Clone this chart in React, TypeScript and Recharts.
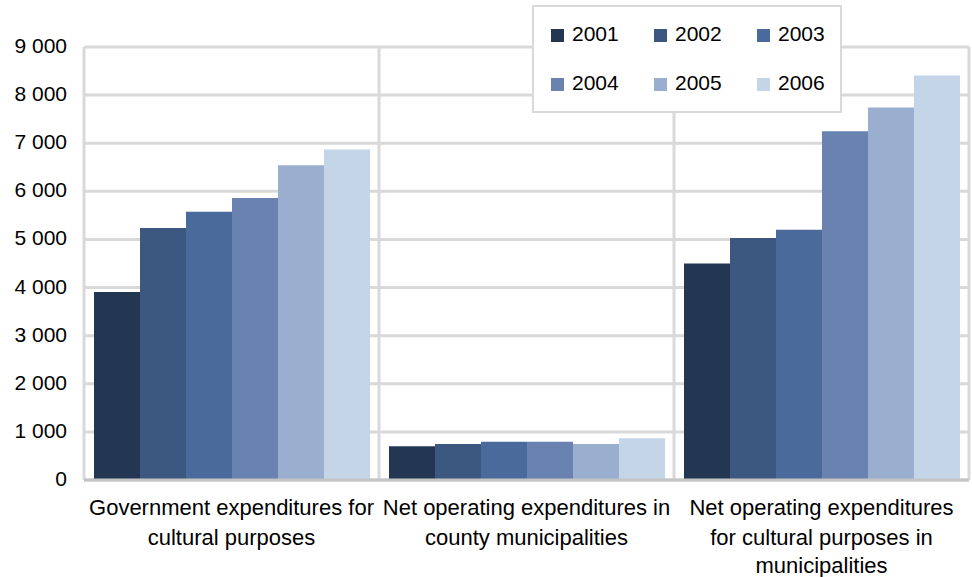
import React from "react";
import { BarChart, Bar, XAxis, YAxis, CartesianGrid, Legend } from "recharts";

const categories = [
  "Government expenditures for\ncultural purposes",
  "Net operating expenditures in\ncounty municipalities",
  "Net operating expenditures\nfor cultural purposes in\nmunicipalities",
];
const years = ["2001", "2002", "2003", "2004", "2005", "2006"];
const v2001 = [3910, 700, 4500];
const v2002 = [5240, 750, 5030];
const v2003 = [5575, 795, 5200];
const v2004 = [5860, 795, 7250];
const v2005 = [6540, 750, 7740];
const v2006 = [6870, 870, 8410];
const yTicks = [0, 1000, 2000, 3000, 4000, 5000, 6000, 7000, 8000, 9000];
const colors = ["#243752", "#3c5780", "#4a6a9c", "#6a82b0", "#9aaed0", "#c5d5e8"];

const seriesValues = [v2001, v2002, v2003, v2004, v2005, v2006];
const data = categories.map((c, i) => {
  const row: Record<string, any> = { name: c };
  years.forEach((y, j) => {
    row[y] = seriesValues[j][i];
  });
  return row;
});

const FONT = "'Liberation Sans', Arial, sans-serif";

const fmt = (v: number) => String(v).replace(/\B(?=(\d{3})+(?!\d))/g, " ");

const XTick = (props: any) => {
  const { x, y, payload } = props;
  const lines = String(payload.value).split("\n");
  return (
    <text x={x} y={y} textAnchor="middle" fontFamily={FONT} fontSize={22} fill="#000">
      {lines.map((l, i) => (
        <tspan key={i} x={x} dy={i === 0 ? 33 : i === 1 ? 30 : 28}>
          {l}
        </tspan>
      ))}
    </text>
  );
};

const YTick = (props: any) => {
  const { x, y, payload } = props;
  return (
    <text x={x} y={y} dy={6} textAnchor="end" fontFamily={FONT} fontSize={21} fill="#000">
      {fmt(payload.value)}
    </text>
  );
};

const LegendBox = (props: any) => {
  const payload = props.payload || [];
  return (
    <div
      style={{
        width: 306,
        height: 102,
        border: "2px solid #d9d9d9",
        background: "#fff",
        display: "grid",
        gridTemplateColumns: "103px 103px 100px",
        gridTemplateRows: "49px 49px",
        paddingTop: 2,
        fontFamily: FONT,
        fontSize: 21,
        color: "#000",
        boxSizing: "content-box",
      }}
    >
      {payload.map((p: any) => (
        <div key={p.value} style={{ display: "flex", alignItems: "center", paddingLeft: 17 }}>
          <span
            style={{
              display: "inline-block",
              width: 13,
              height: 13,
              background: p.color,
              marginRight: 8,
              marginTop: 3,
            }}
          />
          <span>{p.value}</span>
        </div>
      ))}
    </div>
  );
};

export default function App() {
  return (
    <div style={{ position: "absolute", left: 0, top: 0, background: "#fff" }}>
      <BarChart
        width={972}
        height={577}
        data={data}
        margin={{ top: 47, right: 3, bottom: 0, left: 0 }}
        barCategoryGap={10}
        barGap={0}
      >
        <CartesianGrid
          stroke="#d9d9d9"
          strokeWidth={3}
          verticalCoordinatesGenerator={({ offset }: any) =>
            [0, 1, 2, 3].map((i) => offset.left + (i * offset.width) / categories.length)
          }
        />
        <XAxis
          dataKey="name"
          height={97}
          tickLine={false}
          tickSize={0}
          axisLine={{ stroke: "#c4c4c4", strokeWidth: 3 }}
          tick={<XTick />}
          interval={0}
        />
        <YAxis
          width={84}
          domain={[0, 9000]}
          ticks={yTicks}
          tickLine={false}
          tickSize={0}
          tickMargin={17}
          axisLine={false}
          tick={<YTick />}
          interval={0}
        />
        <Legend
          layout="vertical"
          align="center"
          verticalAlign="middle"
          content={<LegendBox />}
          wrapperStyle={{ position: "absolute", left: 532, top: 5, width: 310, height: 106 }}
        />
        {years.map((y, i) => (
          <Bar key={y} dataKey={y} fill={colors[i]} isAnimationActive={false} />
        ))}
      </BarChart>
    </div>
  );
}
